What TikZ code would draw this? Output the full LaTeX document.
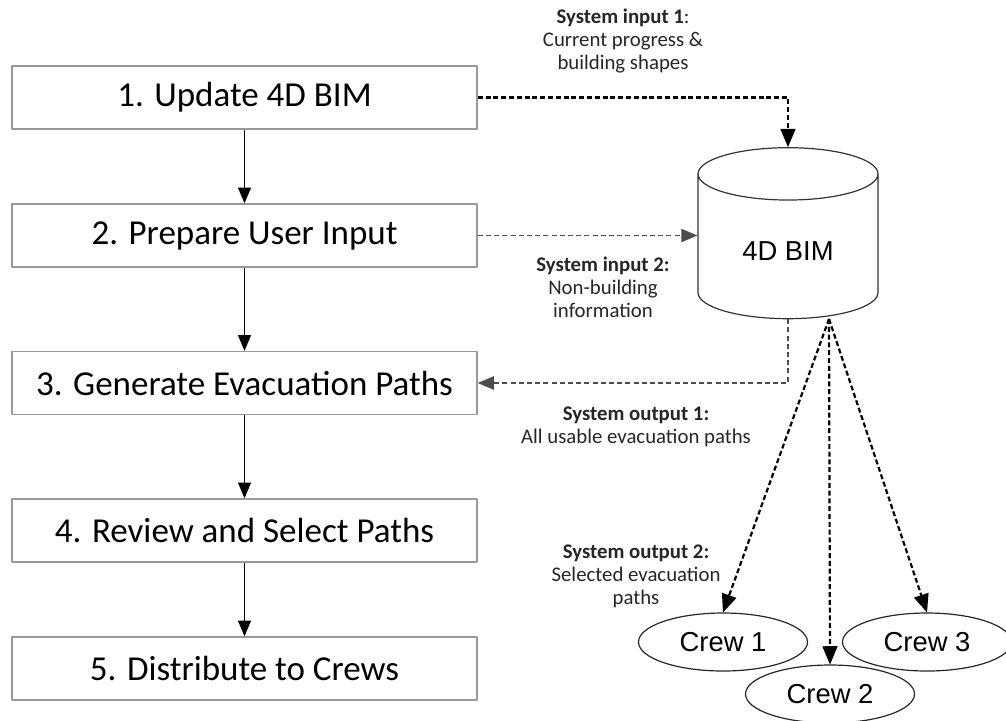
\documentclass[tikz,border=0pt]{standalone}
\usepackage{fontspec}
\setmainfont{Carlito}
\newfontfamily\arialfont{Liberation Sans}
\usepackage{pgf,tikz}
\usetikzlibrary{arrows}
\usetikzlibrary{shapes.geometric}

\begin{document}
\begin{tikzpicture}[line cap=butt,line join=round,>=triangle 45,x=0.5pt,y=-0.5pt]
\useasboundingbox (0,0) rectangle (1006,720);
\tikzstyle{mybox}= [draw=black!40, line width=0.75pt, minimum width=232.5pt, minimum height=31.5pt, inner sep=0pt, font=\fontsize{17.5}{21}\selectfont];
\tikzstyle{mycrew}= [draw=black!85, line width=0.6pt, ellipse, minimum width=84.5pt, minimum height=29pt, inner sep=0pt, font=\arialfont\fontsize{13.7}{16}\selectfont];
\tikzstyle{mylabel}= [align=center, text=black!85, font=\fontsize{10.4}{11.5}\selectfont];
\tikzstyle{mydashed}= [line width=1.1pt, dash pattern=on 2.5pt off 1.4pt];
\tikzstyle{mygray}= [line width=0.85pt, color=black!70, dash pattern=on 2.5pt off 1.6pt];
% steps
\node [mybox] (s1) at (244.5,97.5) {1. Update 4D BIM};
\node [mybox] (s2) at (244.5,235.5) {2. Prepare User Input};
\node [mybox] (s3) at (244.5,383) {3. Generate Evacuation Paths};
\node [mybox] (s4) at (244.5,530.5) {4. Review and Select Paths};
\node [mybox] (s5) at (244.5,668.5) {5. Distribute to Crews};
\draw [line width=0.8pt,->] (s1) -- (s2);
\draw [line width=0.8pt,->] (s2) -- (s3);
\draw [line width=0.8pt,->] (s3) -- (s4);
\draw [line width=0.8pt,->] (s4) -- (s5);
% database
\node [draw=black!80, line width=0.6pt, cylinder, shape border rotate=90, shape aspect=0.5, minimum width=90pt, minimum height=85.5pt, font=\arialfont\fontsize{13.7}{16}\selectfont] (bim) at (788,251.5) {4D BIM};
% crews
\node [mycrew] (c1) at (723,642) {Crew 1};
\node [mycrew] (c2) at (830,694) {Crew 2};
\node [mycrew] (c3) at (927,642) {Crew 3};
\coordinate (fan) at (829,319);
% inputs / outputs
\draw [mydashed,->] (s1.east) -| (bim.north);
\draw [mygray,->] (s2.east) -- (s2.east -| bim.west);
\draw [mygray,->] (bim.south) |- (s3.east);
\draw [mydashed,->] (fan) -- (c1.north);
\draw [mydashed,->] (fan) -- (c2.north);
\draw [mydashed,->] (fan) -- (c3.north);
\node [mylabel] (in1) at (623,41) {\textbf{System input 1}:\\Current progress \&\\building shapes};
\node [mylabel] (in2) at (603,287) {\textbf{System input 2:}\\Non-building\\information};
\node [mylabel] (out1) at (636,426.5) {\textbf{System output 1:}\\All usable evacuation paths};
\node [mylabel] (out2) at (636,576) {\textbf{System output 2:}\\Selected evacuation\\paths};
\end{tikzpicture}
\end{document}
